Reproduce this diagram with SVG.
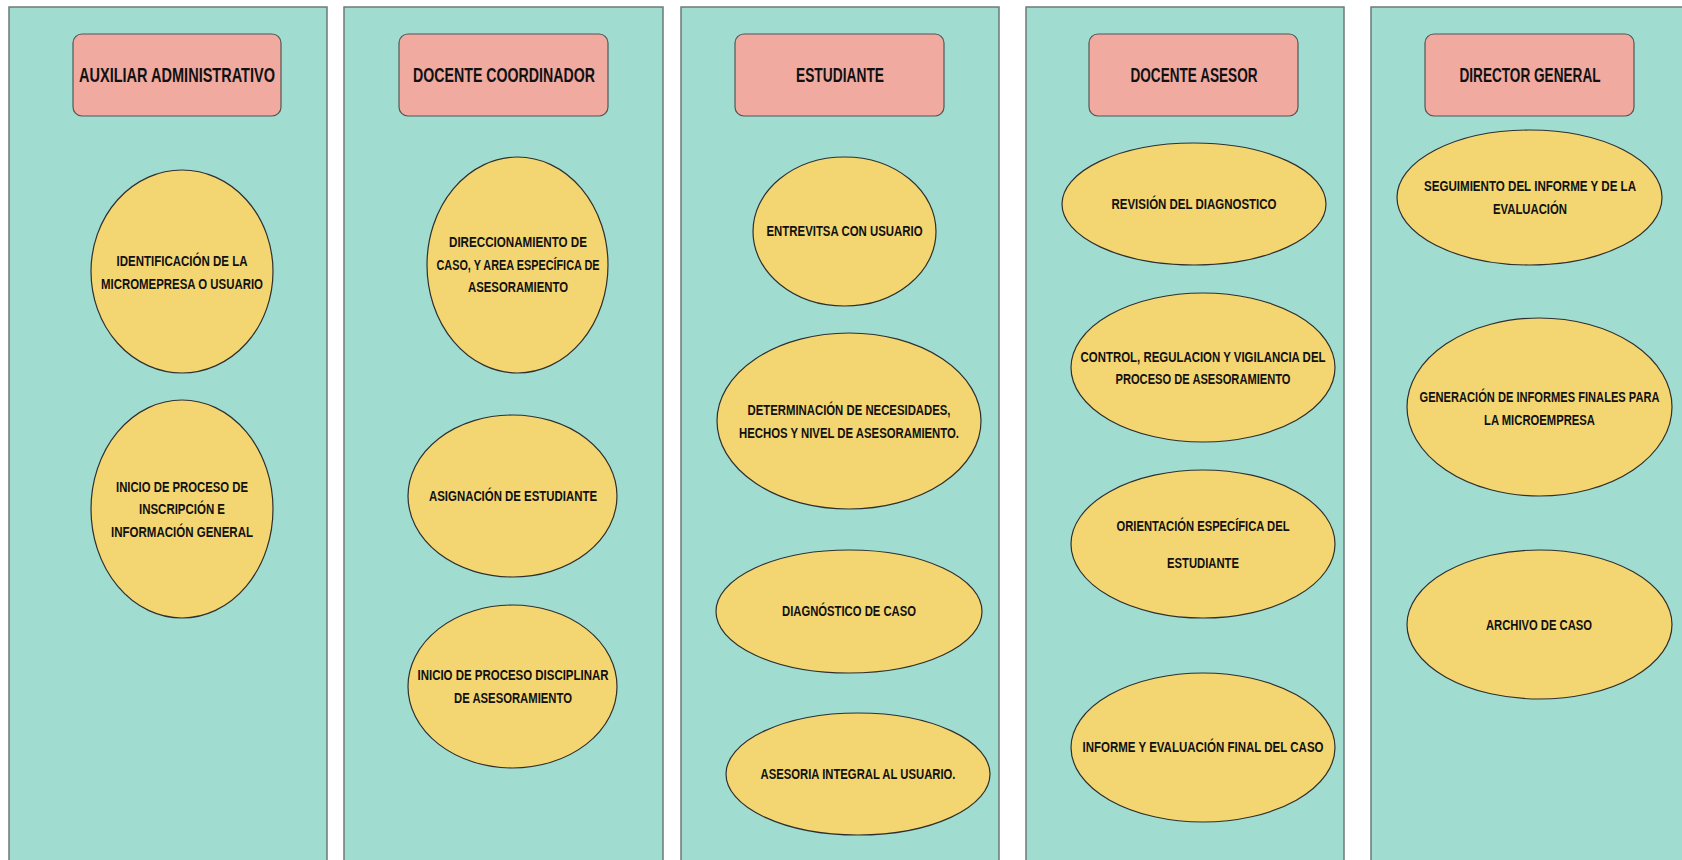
<svg xmlns="http://www.w3.org/2000/svg" width="1682" height="860" viewBox="0 0 1682 860">
<style>
.lane{fill:#A0DDD0;stroke:#6C7A78;stroke-width:1.5}
.hdr{fill:#F0AAA0;stroke:#555;stroke-width:1.2}
.act{fill:#F3D672;stroke:#2F2F2F;stroke-width:1.2}
.ht{font-family:"Liberation Sans",Arial,sans-serif;font-weight:bold;font-size:20px;fill:#111;text-anchor:middle}
.t{font-family:"Liberation Sans",Arial,sans-serif;font-weight:bold;font-size:14px;fill:#111;text-anchor:middle}
</style>
<rect width="1682" height="860" fill="#FFFFFF"/>

<g id="lane-auxiliar">
<rect class="lane" x="9" y="7" width="318" height="870"/>
<rect class="hdr" x="73" y="34" width="208" height="82" rx="9"/>
<text class="ht" x="177" y="82" textLength="196" lengthAdjust="spacingAndGlyphs">AUXILIAR ADMINISTRATIVO</text>
</g>
<g id="lane-coordinador">
<rect class="lane" x="344" y="7" width="319" height="870"/>
<rect class="hdr" x="399" y="34" width="209" height="82" rx="9"/>
<text class="ht" x="504" y="82" textLength="182" lengthAdjust="spacingAndGlyphs">DOCENTE COORDINADOR</text>
</g>
<g id="lane-estudiante">
<rect class="lane" x="681" y="7" width="318" height="870"/>
<rect class="hdr" x="735" y="34" width="209" height="82" rx="9"/>
<text class="ht" x="840" y="82" textLength="88" lengthAdjust="spacingAndGlyphs">ESTUDIANTE</text>
</g>
<g id="lane-asesor">
<rect class="lane" x="1026" y="7" width="318" height="870"/>
<rect class="hdr" x="1089" y="34" width="209" height="82" rx="9"/>
<text class="ht" x="1194" y="82" textLength="127" lengthAdjust="spacingAndGlyphs">DOCENTE ASESOR</text>
</g>
<g id="lane-director">
<rect class="lane" x="1371" y="7" width="330" height="870"/>
<rect class="hdr" x="1425" y="34" width="209" height="82" rx="9"/>
<text class="ht" x="1530" y="82" textLength="141" lengthAdjust="spacingAndGlyphs">DIRECTOR GENERAL</text>
</g>

<g id="n-identificacion">
<ellipse class="act" cx="182" cy="271.5" rx="91" ry="101.5"/>
<text class="t" x="182" y="266" textLength="131" lengthAdjust="spacingAndGlyphs">IDENTIFICACIÓN DE LA</text>
<text class="t" x="182" y="289" textLength="162" lengthAdjust="spacingAndGlyphs">MICROMEPRESA O USUARIO</text>
</g>
<g id="n-inscripcion">
<ellipse class="act" cx="182" cy="509" rx="91" ry="109"/>
<text class="t" x="182" y="492" textLength="132" lengthAdjust="spacingAndGlyphs">INICIO DE PROCESO DE</text>
<text class="t" x="182" y="514" textLength="86" lengthAdjust="spacingAndGlyphs">INSCRIPCIÓN E</text>
<text class="t" x="182" y="537" textLength="142" lengthAdjust="spacingAndGlyphs">INFORMACIÓN GENERAL</text>
</g>

<g id="n-direccionamiento">
<ellipse class="act" cx="517.5" cy="265" rx="90.5" ry="108"/>
<text class="t" x="518" y="247" textLength="138" lengthAdjust="spacingAndGlyphs">DIRECCIONAMIENTO DE</text>
<text class="t" x="518" y="270" textLength="163" lengthAdjust="spacingAndGlyphs">CASO, Y AREA ESPECÍFICA DE</text>
<text class="t" x="518" y="292" textLength="100" lengthAdjust="spacingAndGlyphs">ASESORAMIENTO</text>
</g>
<g id="n-asignacion">
<ellipse class="act" cx="512.5" cy="496" rx="104.5" ry="81"/>
<text class="t" x="513" y="501" textLength="168" lengthAdjust="spacingAndGlyphs">ASIGNACIÓN DE ESTUDIANTE</text>
</g>
<g id="n-disciplinar">
<ellipse class="act" cx="512.5" cy="686.5" rx="104.5" ry="81.5"/>
<text class="t" x="513" y="680" textLength="191" lengthAdjust="spacingAndGlyphs">INICIO DE PROCESO DISCIPLINAR</text>
<text class="t" x="513" y="703" textLength="118" lengthAdjust="spacingAndGlyphs">DE ASESORAMIENTO</text>
</g>

<g id="n-entrevista">
<ellipse class="act" cx="844.5" cy="231.5" rx="91.5" ry="74.5"/>
<text class="t" x="844.5" y="236" textLength="156" lengthAdjust="spacingAndGlyphs">ENTREVITSA CON USUARIO</text>
</g>
<g id="n-determinacion">
<ellipse class="act" cx="849" cy="421" rx="132" ry="88"/>
<text class="t" x="849" y="415" textLength="203" lengthAdjust="spacingAndGlyphs">DETERMINACIÓN DE NECESIDADES,</text>
<text class="t" x="849" y="438" textLength="220" lengthAdjust="spacingAndGlyphs">HECHOS Y NIVEL DE ASESORAMIENTO.</text>
</g>
<g id="n-diagnostico">
<ellipse class="act" cx="849" cy="611.5" rx="133" ry="61.5"/>
<text class="t" x="849" y="616" textLength="134" lengthAdjust="spacingAndGlyphs">DIAGNÓSTICO DE CASO</text>
</g>
<g id="n-asesoria">
<ellipse class="act" cx="858" cy="774" rx="132" ry="61"/>
<text class="t" x="858" y="779" textLength="195" lengthAdjust="spacingAndGlyphs">ASESORIA INTEGRAL AL USUARIO.</text>
</g>

<g id="n-revision">
<ellipse class="act" cx="1194" cy="204" rx="132" ry="61"/>
<text class="t" x="1194" y="209" textLength="165" lengthAdjust="spacingAndGlyphs">REVISIÓN DEL DIAGNOSTICO</text>
</g>
<g id="n-control">
<ellipse class="act" cx="1203" cy="367.5" rx="132" ry="74.5"/>
<text class="t" x="1203" y="362" textLength="245" lengthAdjust="spacingAndGlyphs">CONTROL, REGULACION Y VIGILANCIA DEL</text>
<text class="t" x="1203" y="384" textLength="175" lengthAdjust="spacingAndGlyphs">PROCESO DE ASESORAMIENTO</text>
</g>
<g id="n-orientacion">
<ellipse class="act" cx="1203" cy="544" rx="132" ry="74"/>
<text class="t" x="1203" y="531" textLength="173" lengthAdjust="spacingAndGlyphs">ORIENTACIÓN ESPECÍFICA DEL</text>
<text class="t" x="1203" y="568" textLength="72" lengthAdjust="spacingAndGlyphs">ESTUDIANTE</text>
</g>
<g id="n-informe">
<ellipse class="act" cx="1203" cy="747.5" rx="132" ry="74.5"/>
<text class="t" x="1203" y="752" textLength="241" lengthAdjust="spacingAndGlyphs">INFORME Y EVALUACIÓN FINAL DEL CASO</text>
</g>

<g id="n-seguimiento">
<ellipse class="act" cx="1529.5" cy="197.5" rx="132.5" ry="67.5"/>
<text class="t" x="1530" y="191" textLength="212" lengthAdjust="spacingAndGlyphs">SEGUIMIENTO DEL INFORME Y DE LA</text>
<text class="t" x="1530" y="214" textLength="74" lengthAdjust="spacingAndGlyphs">EVALUACIÓN</text>
</g>
<g id="n-generacion">
<ellipse class="act" cx="1539.5" cy="407" rx="132.5" ry="89"/>
<text class="t" x="1539.5" y="402" textLength="240" lengthAdjust="spacingAndGlyphs">GENERACIÓN DE INFORMES FINALES PARA</text>
<text class="t" x="1539.5" y="425" textLength="111" lengthAdjust="spacingAndGlyphs">LA MICROEMPRESA</text>
</g>
<g id="n-archivo">
<ellipse class="act" cx="1539.5" cy="624.5" rx="132.5" ry="74.5"/>
<text class="t" x="1539" y="630" textLength="106" lengthAdjust="spacingAndGlyphs">ARCHIVO DE CASO</text>
</g>

<g id="connectors"></g>
</svg>
